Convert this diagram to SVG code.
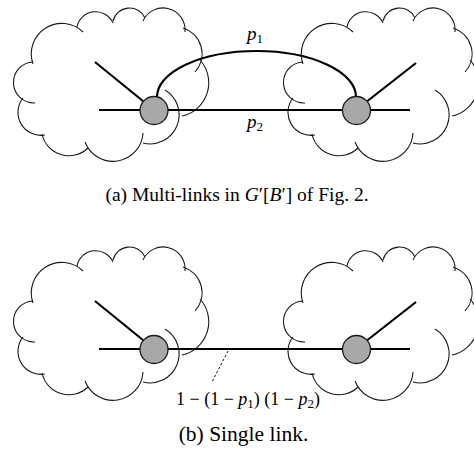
<svg xmlns="http://www.w3.org/2000/svg" xmlns:xlink="http://www.w3.org/1999/xlink" width="474" height="461" viewBox="0 0 474 461">
  <style>
    .cloud { fill: none; stroke: #1a1a1a; stroke-width: 1.1; }
    .link { fill: none; stroke: #000; stroke-width: 2.2; }
    .node { fill: #a8a8a8; stroke: #1a1a1a; stroke-width: 1.3; }
    .lbl { font-family: "Liberation Serif", "Times New Roman", serif; font-size: 19px; fill: #000; }
    .it { font-style: italic; }
    .sub { font-size: 13px; }
    .lead { fill: none; stroke: #000; stroke-width: 0.9; stroke-dasharray: 2.5 2; }
  </style>
  <defs>
    <!-- one cloud outline built from overlapping arcs -->
    <path id="cloud" class="cloud" d="
      M35,103 A20,20 0 0 1 33,62
      M33,64 A30.5,30.5 0 0 1 83,32
      M77,27 A19,19 0 0 1 113,23
      M113,21 A17,17 0 0 1 145,18
      M143,21 A22,22 0 0 1 185,32
      M183,28 A27,27 0 0 1 195,72
      M200,60 A34,34 0 0 1 182,116
      M165,90 A29,29 0 0 1 143,143
      M143,133 A30,30 0 0 1 85,142
      M88,148 A27.5,27.5 0 0 1 42,134
      M45,135 A23,23 0 0 1 23,98"/>
  </defs>

  <!-- (a) multi-links -->
  <g id="cloud-a-left"><use xlink:href="#cloud"/></g>
  <g id="cloud-a-right"><use xlink:href="#cloud" transform="translate(270,0)"/></g>
  <g id="links-a">
    <path class="link" d="M99,110 H410"/>
    <path class="link" d="M95,62 L154,110"/>
    <path class="link" d="M356,110 L416,63"/>
    <path class="link" d="M157,110 V97 A99.5,46 0 0 1 356,97 V110"/>
  </g>
  <g id="node-a-left"><circle class="node" cx="154" cy="110.5" r="14"/></g>
  <g id="node-a-right"><circle class="node" cx="356.5" cy="110.5" r="14"/></g>
  <text class="lbl" x="247" y="40"><tspan class="it">p</tspan><tspan class="sub" dy="3">1</tspan></text>
  <text class="lbl" x="247" y="128"><tspan class="it">p</tspan><tspan class="sub" dy="3">2</tspan></text>
  <text class="lbl" x="237" y="201" text-anchor="middle" style="font-size:19.5px">(a) Multi-links in <tspan class="it">G</tspan>′[<tspan class="it">B</tspan>′] of Fig. 2.</text>

  <!-- (b) single link -->
  <g id="cloud-b-left"><use xlink:href="#cloud" transform="translate(0,239)"/></g>
  <g id="cloud-b-right"><use xlink:href="#cloud" transform="translate(270,239)"/></g>
  <g id="links-b">
    <path class="link" d="M99,349 H410"/>
    <path class="link" d="M95,301 L154,349"/>
    <path class="link" d="M356,349 L416,302"/>
    <path class="lead" d="M228,351 L212,382"/>
  </g>
  <g id="node-b-left"><circle class="node" cx="154" cy="349.5" r="14"/></g>
  <g id="node-b-right"><circle class="node" cx="356.5" cy="349.5" r="14"/></g>
  <text class="lbl" x="176" y="405" style="font-size:18px">1 − (1 − <tspan class="it">p</tspan><tspan class="sub" dy="3">1</tspan><tspan dy="-3">) (1 − </tspan><tspan class="it">p</tspan><tspan class="sub" dy="3">2</tspan><tspan dy="-3">)</tspan></text>
  <text class="lbl" x="243.5" y="441" text-anchor="middle" style="font-size:21.5px">(b) Single link.</text>
</svg>
